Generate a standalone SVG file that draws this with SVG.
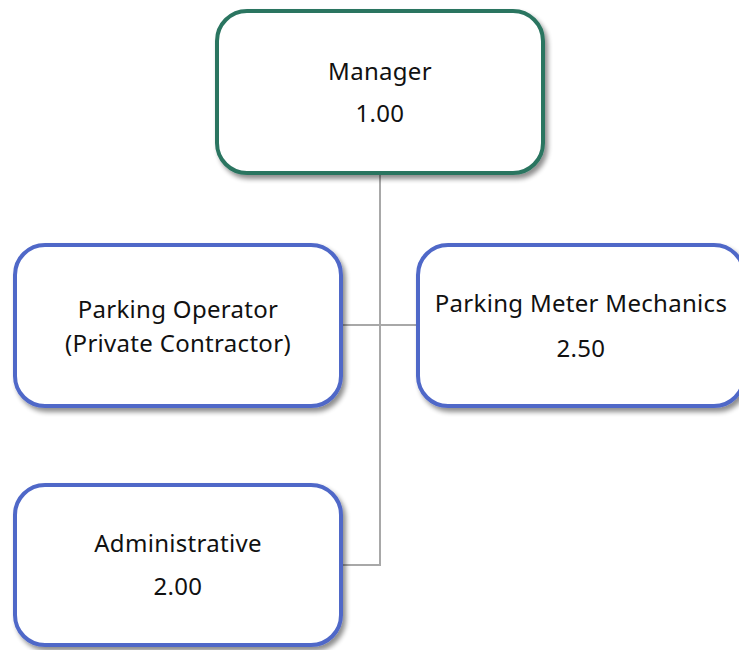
<svg xmlns="http://www.w3.org/2000/svg" width="739" height="650" viewBox="0 0 739 650">
<defs>
<filter id="sh" x="-10%" y="-10%" width="130%" height="130%">
<feGaussianBlur in="SourceAlpha" stdDeviation="2.5"/>
<feOffset dx="3" dy="4" result="b"/>
<feComponentTransfer><feFuncA type="linear" slope="0.45"/></feComponentTransfer>
<feMerge><feMergeNode/><feMergeNode in="SourceGraphic"/></feMerge>
</filter>
</defs>
<style>
.box{fill:#fff;stroke-width:4;filter:url(#sh)}
.g{stroke:#2b7561}
.b{stroke:#5068c8}
.t{font-family:"Noto Sans","Open Sans",sans-serif;font-size:24px;letter-spacing:0.3px;fill:#111;text-anchor:middle}
.c{stroke:#a8a8a8;stroke-width:2;fill:none}
</style>
<rect width="739" height="650" fill="#fff"/>
<g id="connectors">
<path class="c" d="M380,175 V565 H343"/>
<path class="c" d="M343,325 H416"/>
</g>
<g id="manager">
<rect class="box g" x="217" y="11" width="326" height="162" rx="30"/>
<text class="t" x="380" y="80">Manager</text>
<text class="t" x="380" y="122">1.00</text>
</g>
<g id="parking-operator">
<rect class="box b" x="15" y="245" width="326" height="161" rx="30"/>
<text class="t" x="178" y="318">Parking Operator</text>
<text class="t" x="178" y="352">(Private Contractor)</text>
</g>
<g id="parking-meter-mechanics">
<rect class="box b" x="418" y="245" width="326" height="161" rx="30"/>
<text class="t" x="581" y="312">Parking Meter Mechanics</text>
<text class="t" x="581" y="357">2.50</text>
</g>
<g id="administrative">
<rect class="box b" x="15" y="485" width="326" height="160" rx="30"/>
<text class="t" x="178" y="552">Administrative</text>
<text class="t" x="178" y="595">2.00</text>
</g>
</svg>
